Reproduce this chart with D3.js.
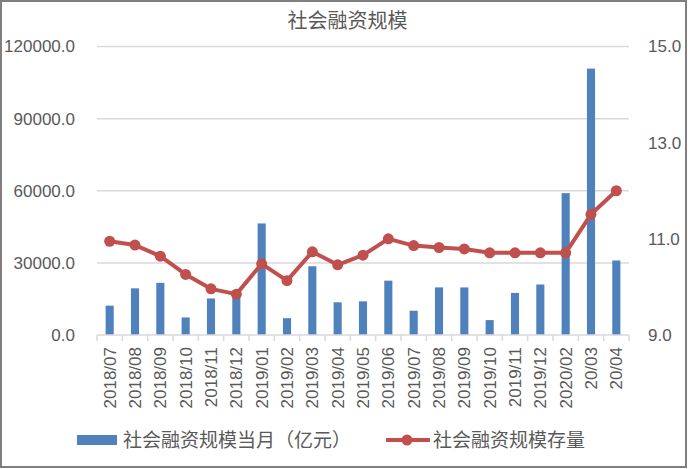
<!DOCTYPE html>
<html><head><meta charset="utf-8">
<script src="https://cdn.jsdelivr.net/npm/d3@7"></script>
<style>body{margin:0;background:#fff;} text{font-family:"Liberation Sans","Noto Sans CJK SC",sans-serif;fill:#595959;}</style>
</head><body>
<svg id="c" width="688" height="469"></svg>
<script>
const categories = ["2018/07","2018/08","2018/09","2018/10","2018/11","2018/12","2019/01","2019/02","2019/03","2019/04","2019/05","2019/06","2019/07","2019/08","2019/09","2019/10","2019/11","2019/12","2020/02","20/03","20/04"];
const monthlyTSF = [12200,19400,21700,7300,15200,15900,46400,7000,28600,13600,14000,22600,10100,19800,19800,6200,17500,21000,59000,110800,31000];
const stockGrowth = [10.95,10.87,10.64,10.26,9.96,9.85,10.48,10.13,10.73,10.46,10.66,11.0,10.86,10.82,10.79,10.71,10.71,10.71,10.71,11.51,12.0];
const leftTicks = [0,30000,60000,90000,120000];
const rightTicks = [9,11,13,15];
const seriesNames = ["社会融资规模当月（亿元）","社会融资规模存量"];
const title = "社会融资规模";

const svg = d3.select("#c");
const W=688,H=469;
const m={l:97,r:629,t:46.5,b:335};
svg.append("rect").attr("x",1).attr("y",1).attr("width",W-3).attr("height",H-3).attr("fill","#fff").attr("stroke","#7f7f7f").attr("stroke-width",2);

const x=d3.scaleBand().domain(categories).range([m.l,m.r]).paddingInner(0.68).paddingOuter(0.34);
const xb=d3.scaleBand().domain(categories).range([m.l,m.r]);
const yL=d3.scaleLinear().domain([0,120000]).range([m.b,m.t]);
const yR=d3.scaleLinear().domain([9,15]).range([m.b,m.t]);

// gridlines
svg.append("g").selectAll("line").data(leftTicks.slice(1)).join("line")
 .attr("x1",m.l).attr("x2",m.r).attr("y1",d=>yL(d)).attr("y2",d=>yL(d))
 .attr("stroke","#d9d9d9").attr("stroke-width",1.5);

// left axis labels
const gl=svg.append("g").attr("transform",`translate(${m.l-22},0)`).call(d3.axisLeft(yL).tickValues(leftTicks).tickFormat(d3.format(".1f")).tickSize(0).tickPadding(0));
gl.select(".domain").remove();
gl.selectAll("text").attr("font-size",17).style("fill","#595959");

const gr=svg.append("g").attr("transform",`translate(${m.r+19},0)`).call(d3.axisRight(yR).tickValues(rightTicks).tickFormat(d3.format(".1f")).tickSize(0).tickPadding(0));
gr.select(".domain").remove();
gr.selectAll("text").attr("font-size",17).style("fill","#595959");

// bars
svg.append("g").selectAll("rect").data(monthlyTSF).join("rect")
 .attr("x",(d,i)=>x(categories[i])).attr("width",x.bandwidth())
 .attr("y",d=>yL(d)).attr("height",d=>m.b-yL(d)).attr("fill","#4f81bd");

// x axis
svg.append("line").attr("x1",m.l).attr("x2",m.r).attr("y1",m.b).attr("y2",m.b).attr("stroke","#d9d9d9").attr("stroke-width",1.5);
svg.append("g").selectAll("line").data(d3.range(categories.length+1)).join("line")
 .attr("x1",i=>m.l+i*xb.step()).attr("x2",i=>m.l+i*xb.step()).attr("y1",m.b).attr("y2",m.b+6)
 .attr("stroke","#d9d9d9").attr("stroke-width",1.5);
svg.append("g").selectAll("text").data(categories).join("text")
 .attr("transform",d=>`translate(${xb(d)+xb.bandwidth()/2+6},${m.b+12}) rotate(-90)`)
 .attr("text-anchor","end").attr("font-size",17).text(d=>d);

// line
const line=d3.line().x((d,i)=>xb(categories[i])+xb.bandwidth()/2).y(d=>yR(d));
svg.append("path").datum(stockGrowth).attr("d",line).attr("fill","none").attr("stroke","#c0504d").attr("stroke-width",4).attr("stroke-linejoin","round");
svg.append("g").selectAll("circle").data(stockGrowth).join("circle")
 .attr("cx",(d,i)=>xb(categories[i])+xb.bandwidth()/2).attr("cy",d=>yR(d)).attr("r",5.5).attr("fill","#c0504d");

// title
svg.append("text").attr("x",347.5).attr("y",28).attr("text-anchor","middle").attr("font-size",20).text(title);

// legend
svg.append("rect").attr("x",77).attr("y",435).attr("width",40).attr("height",10).attr("fill","#4f81bd");
svg.append("text").attr("x",123).attr("y",447).attr("font-size",19).text(seriesNames[0]);
svg.append("line").attr("x1",386).attr("x2",430).attr("y1",440).attr("y2",440).attr("stroke","#c0504d").attr("stroke-width",4);
svg.append("circle").attr("cx",407).attr("cy",440).attr("r",5.5).attr("fill","#c0504d");
svg.append("text").attr("x",433).attr("y",447).attr("font-size",19).text(seriesNames[1]);
</script>
</body></html>
